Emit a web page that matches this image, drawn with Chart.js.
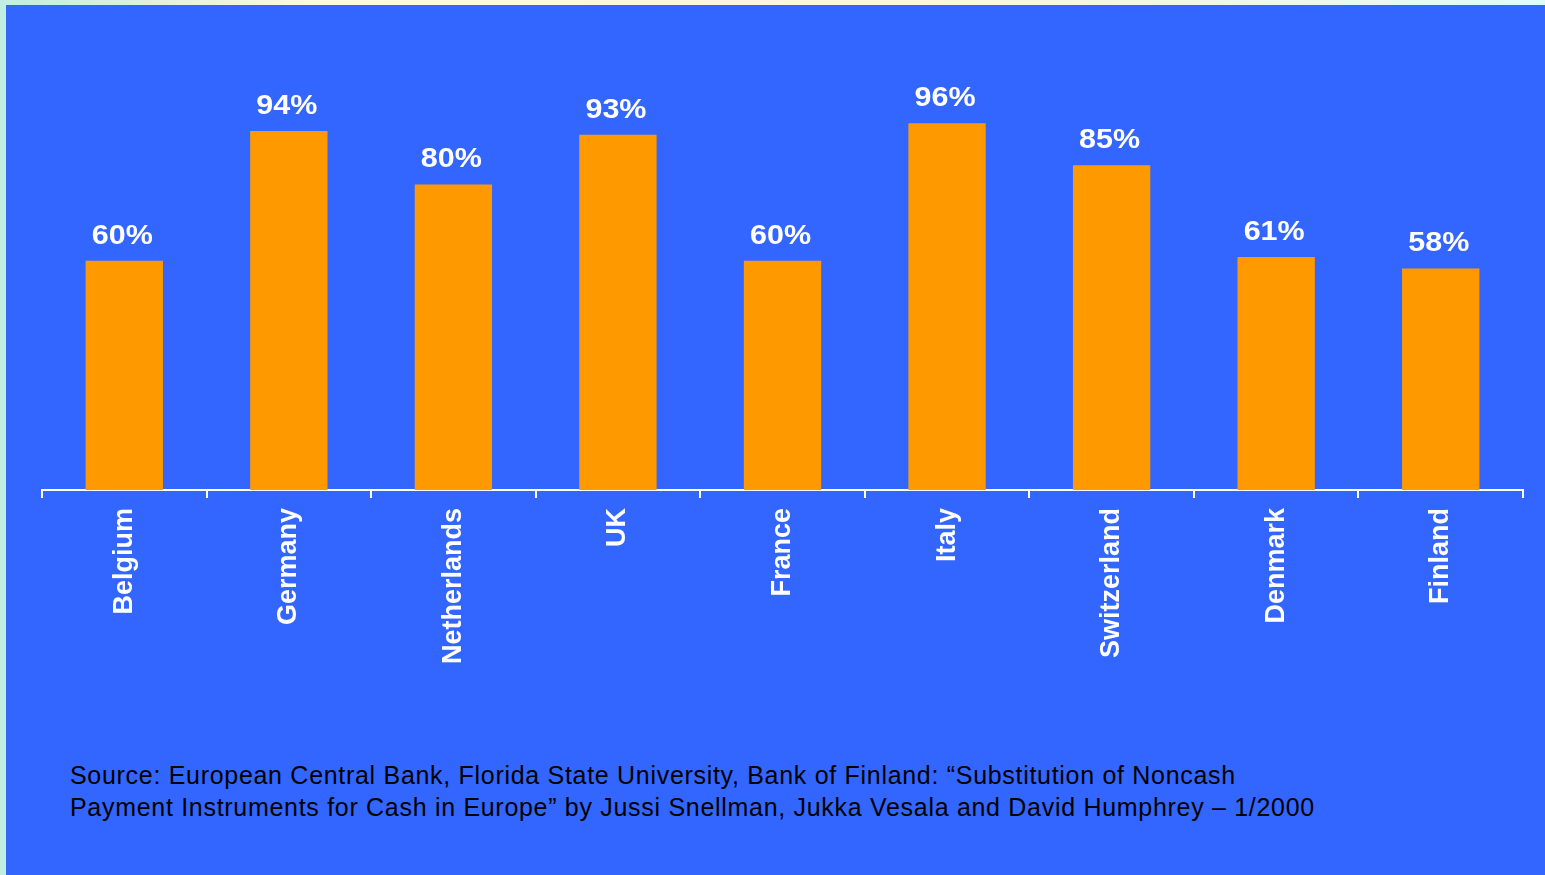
<!DOCTYPE html>
<html>
<head>
<meta charset="utf-8">
<script src="https://cdn.jsdelivr.net/npm/chart.js@4/dist/chart.umd.min.js"></script>
<style>
  html, body { margin: 0; padding: 0; }
  body {
    width: 1545px; height: 875px; overflow: hidden; position: relative;
    background: linear-gradient(90deg, #bfeee0 0%, #fdf8e0 20%, #fbf6dc 60%, #dcfcfb 100%);
  }
  #panel {
    position: absolute; left: 6px; top: 5px; width: 1539px; height: 870px;
    background: #3366ff;
  }
  #chart-wrap { position: absolute; left: 0; top: 0; width: 1545px; height: 700px; }
  #source {
    position: absolute; left: 70px; top: 759px;
    font-family: "Liberation Sans", Arial, sans-serif; font-size: 25px; line-height: 32px;
    letter-spacing: 0.7px; color: #000;
  }
</style>
</head>
<body>
<div id="panel"></div>
<div id="chart-wrap"><canvas id="bar-chart" width="1545" height="700"></canvas></div>
<div id="source">Source: European Central Bank, Florida State University, Bank of Finland: “Substitution of Noncash<br>Payment Instruments for Cash in Europe” by Jussi Snellman, Jukka Vesala and David Humphrey – 1/2000</div>
<script>
const countries = ["Belgium", "Germany", "Netherlands", "UK", "France", "Italy", "Switzerland", "Denmark", "Finland"];
const shares = [60, 94, 80, 93, 60, 96, 85, 61, 58];

// draws the "94%" labels above the bars (glyphs a bit stretched, like the original)
const valueLabels = {
  id: "valueLabels",
  afterDatasetsDraw(chart) {
    const ctx = chart.ctx;
    const meta = chart.getDatasetMeta(0);
    const sx = 1.13;
    ctx.save();
    ctx.font = "bold 27px 'Liberation Sans', Arial, sans-serif";
    ctx.fillStyle = "#ffffff";
    ctx.textAlign = "center";
    ctx.textBaseline = "alphabetic";
    meta.data.forEach((bar, i) => {
      ctx.save();
      ctx.translate(bar.x - 2, bar.y - 17);
      ctx.scale(sx, 1);
      ctx.fillText(shares[i] + "%", 0, 0);
      ctx.restore();
    });
    ctx.restore();
  }
};

const ctx = document.getElementById("bar-chart").getContext("2d");
new Chart(ctx, {
  type: "bar",
  data: {
    labels: countries,
    datasets: [{
      data: shares,
      backgroundColor: "#ff9900",
      borderWidth: 0,
      barPercentage: 0.47,
      categoryPercentage: 1
    }]
  },
  options: {
    responsive: false,
    animation: false,
    layout: { padding: { left: 42, right: 22, top: 108, bottom: 0 } },
    plugins: { legend: { display: false }, tooltip: { enabled: false } },
    scales: {
      y: { display: false, min: 0, max: 100 },
      x: {
        grid: {
          offset: true,
          drawOnChartArea: false,
          drawTicks: true,
          tickLength: 8,
          color: "#ffffff",
          lineWidth: 2
        },
        border: { color: "#ffffff", width: 2 },
        ticks: {
          color: "#ffffff",
          font: { family: "'Liberation Sans', Arial, sans-serif", size: 27, weight: "bold" },
          maxRotation: 90,
          minRotation: 90,
          padding: 10,
          autoSkip: false
        },
        afterFit(axis) { axis.height = 210; }
      }
    }
  },
  plugins: [valueLabels]
});
</script>
</body>
</html>
